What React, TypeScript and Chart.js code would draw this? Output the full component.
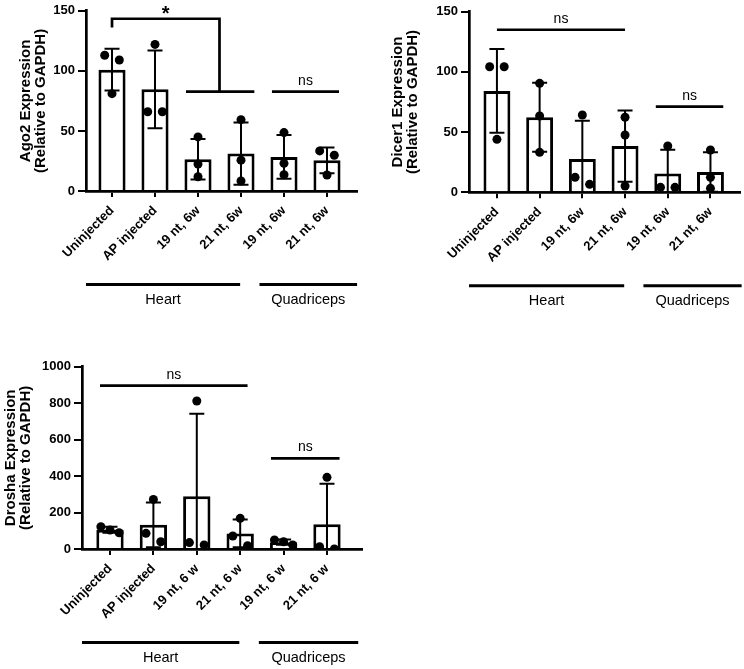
import React, { useEffect, useRef } from "react";
import { Chart, registerables } from "chart.js";

Chart.register(...registerables);

// ---------- data ----------
const categoriesShort = ["Uninjected", "AP injected", "19 nt, 6w", "21 nt, 6w", "19 nt, 6w", "21 nt, 6w"];
const categoriesSpaced = ["Uninjected", "AP injected", "19 nt, 6 w", "21 nt, 6 w", "19 nt, 6 w", "21 nt, 6 w"];
const tissues = ["Heart", "Quadriceps"];

const ago2Replicates = [
  [113, 109, 81],
  [122, 66, 66],
  [45, 22.4, 11.9],
  [59.4, 25.7, 8.3],
  [48.6, 23, 13.5],
  [33.4, 29.8, 13.3],
];
const dicer1Replicates = [
  [104.3, 104.3, 44],
  [90.5, 63.4, 33.2],
  [64.2, 12.4, 6.6],
  [62.3, 47.6, 5.2],
  [38.5, 4.1, 4.1],
  [35.1, 12.4, 3.3],
];
const droshaReplicates = [
  [122, 104, 89],
  [272, 86, 40],
  [812, 35, 22],
  [168, 71, 18],
  [50, 40, 22],
  [393, 13, 0],
];

const ago2Ticks = [0, 50, 100, 150];
const dicer1Ticks = [0, 50, 100, 150];
const droshaTicks = [0, 200, 400, 600, 800, 1000];

type Sig =
  | { kind: "bracket"; from: number; to: number; y: number; leftEnd: number; rightEnd: number; label: string }
  | { kind: "line"; from: number; to: number; y: number; label: string };

const ago2Sig: Sig[] = [
  { kind: "bracket", from: 0, to: 2.5, y: 143.4, leftEnd: 136.2, rightEnd: 82.8, label: "*" },
  { kind: "line", from: 1.72, to: 3.31, y: 82.8, label: "" },
  { kind: "line", from: 3.72, to: 5.28, y: 82.8, label: "ns" },
];
const dicer1Sig: Sig[] = [
  { kind: "line", from: 0, to: 3, y: 135, label: "ns" },
  { kind: "line", from: 3.72, to: 5.3, y: 71.1, label: "ns" },
];
const droshaSig: Sig[] = [
  { kind: "line", from: -0.23, to: 3.17, y: 896, label: "ns" },
  { kind: "line", from: 3.71, to: 5.29, y: 497, label: "ns" },
];

// ---------- helpers ----------
const FAMILY = "'Liberation Sans', Arial, Helvetica, sans-serif";

function mean(a: number[]) {
  return a.reduce((s, v) => s + v, 0) / a.length;
}
function sd(a: number[]) {
  const m = mean(a);
  return Math.sqrt(a.reduce((s, v) => s + (v - m) * (v - m), 0) / (a.length - 1));
}

// GraphPad-like horizontal spreading of overlapping points
function spreadPoints(reps: number[][], range: number) {
  const thr = range * 0.057;
  const out: { x: number; y: number }[] = [];
  reps.forEach((vals, i) => {
    const sorted = [...vals].sort((a, b) => b - a);
    const clusters: number[][] = [];
    sorted.forEach((v) => {
      const last = clusters[clusters.length - 1];
      if (last && last[last.length - 1] - v <= thr) last.push(v);
      else clusters.push([v]);
    });
    clusters.forEach((c) => {
      let offs: number[] = [0];
      if (c.length === 2) offs = [-0.17, 0.17];
      if (c.length >= 3) offs = c.map((_, k) => -0.21 + (0.42 * k) / (c.length - 1));
      c.forEach((v, k) => out.push({ x: i + offs[k], y: v }));
    });
  });
  return out;
}

type PanelCfg = {
  title: string[];
  cats: string[];
  reps: number[][];
  yTicks: number[];
  sig: Sig[];
  box: { left: number; top: number; width: number; height: number };
  yW: number;
  xH: number;
  pad: { top: number; right: number };
  xMin: number;
  xMax: number;
  titlePad: number;
  quadEnd: number;
};

const panels: PanelCfg[] = [
  {
    title: ["Ago2 Expression", "(Relative to GAPDH)"],
    cats: categoriesShort,
    reps: ago2Replicates,
    yTicks: ago2Ticks,
    sig: ago2Sig,
    box: { left: 0, top: 0, width: 372, height: 320 },
    yW: 86,
    xH: 129,
    pad: { top: 10, right: 15 },
    xMin: -0.605,
    xMax: 5.698,
    titlePad: 18.5,
    quadEnd: 5.7,
  },
  {
    title: ["Dicer1 Expression", "(Relative to GAPDH)"],
    cats: categoriesShort,
    reps: dicer1Replicates,
    yTicks: dicer1Ticks,
    sig: dicer1Sig,
    box: { left: 372, top: 0, width: 372, height: 320 },
    yW: 97,
    xH: 127.7,
    pad: { top: 11.7, right: 4 },
    xMin: -0.654,
    xMax: 5.68,
    titlePad: 18.5,
    quadEnd: 5.73,
  },
  {
    title: ["Drosha Expression", "(Relative to GAPDH)"],
    cats: categoriesSpaced,
    reps: droshaReplicates,
    yTicks: droshaTicks,
    sig: droshaSig,
    box: { left: 0, top: 330, width: 400, height: 339 },
    yW: 82,
    xH: 120,
    pad: { top: 36.7, right: 38.3 },
    xMin: -0.645,
    xMax: 5.8,
    titlePad: 3,
    quadEnd: 5.72,
  },
];

function buildConfig(p: PanelCfg): any {
  const means = p.reps.map(mean);
  const sds = p.reps.map(sd);
  const yMax = p.yTicks[p.yTicks.length - 1];
  const yStep = p.yTicks[1] - p.yTicks[0];

  const extras = {
    id: "extras",
    afterDatasetDraw(chart: any, args: any) {
      if (args.index !== 1) return;
      const xs = chart.scales.x;
      const ys = chart.scales.y;
      const ctx = chart.ctx as CanvasRenderingContext2D;
      ctx.save();
      ctx.strokeStyle = "#000";
      ctx.lineWidth = 2;
      means.forEach((m, i) => {
        const px = xs.getPixelForValue(i);
        const hi = m + sds[i];
        const lo = m - sds[i];
        const pTop = ys.getPixelForValue(hi);
        const pBot = ys.getPixelForValue(Math.max(lo, 0));
        ctx.beginPath();
        ctx.moveTo(px, pTop);
        ctx.lineTo(px, pBot);
        ctx.moveTo(px - 7.5, pTop);
        ctx.lineTo(px + 7.5, pTop);
        if (lo > 0) {
          ctx.moveTo(px - 7.5, pBot);
          ctx.lineTo(px + 7.5, pBot);
        }
        ctx.stroke();
      });
      ctx.restore();
    },
    afterDraw(chart: any) {
      const xs = chart.scales.x;
      const ys = chart.scales.y;
      const ctx = chart.ctx as CanvasRenderingContext2D;
      ctx.save();
      ctx.strokeStyle = "#000";
      ctx.fillStyle = "#000";
      ctx.lineWidth = 2.7;
      ctx.lineCap = "butt";
      ctx.textAlign = "center";
      ctx.textBaseline = "alphabetic";
      p.sig.forEach((s) => {
        const x1 = xs.getPixelForValue(s.from);
        const x2 = xs.getPixelForValue(s.to);
        const py = ys.getPixelForValue(s.y);
        ctx.beginPath();
        if (s.kind === "bracket") {
          ctx.moveTo(x1, ys.getPixelForValue(s.leftEnd));
          ctx.lineTo(x1, py);
          ctx.lineTo(x2, py);
          ctx.lineTo(x2, ys.getPixelForValue(s.rightEnd));
          ctx.stroke();
          ctx.font = `bold 20px ${FAMILY}`;
          ctx.fillText(s.label, (x1 + x2) / 2, py + 1);
        } else {
          ctx.moveTo(x1, py);
          ctx.lineTo(x2, py);
          ctx.stroke();
          if (s.label) {
            ctx.font = `14px ${FAMILY}`;
            ctx.fillText(s.label, (x1 + x2) / 2, py - 7);
          }
        }
      });
      // tissue group lines
      const base = chart.chartArea.bottom;
      const spans = [
        [xs.min, 2.98],
        [3.43, p.quadEnd],
      ];
      ctx.lineWidth = 3;
      ctx.font = `14.5px ${FAMILY}`;
      ctx.textBaseline = "middle";
      spans.forEach((sp, k) => {
        const a = xs.getPixelForValue(sp[0]);
        const b = xs.getPixelForValue(sp[1]);
        ctx.beginPath();
        ctx.moveTo(a, base + 93.5);
        ctx.lineTo(b, base + 93.5);
        ctx.stroke();
        ctx.fillText(tissues[k], (a + b) / 2, base + 108.5);
      });
      ctx.restore();
    },
  };

  return {
    type: "bar",
    data: {
      datasets: [
        {
          type: "scatter",
          data: spreadPoints(p.reps, yMax),
          pointRadius: 4.5,
          pointHoverRadius: 4.5,
          backgroundColor: "#000",
          borderColor: "#000",
          borderWidth: 0,
        },
        {
          type: "bar",
          data: means.map((m, i) => ({ x: i, y: m })),
          backgroundColor: "#fff",
          borderColor: "#000",
          borderWidth: 3,
          barPercentage: 0.63,
          categoryPercentage: 1,
        },
      ],
    },
    options: {
      responsive: false,
      animation: false,
      devicePixelRatio: 1,
      layout: { padding: { left: 0, top: p.pad.top, right: p.pad.right, bottom: 0 } },
      plugins: { legend: { display: false }, tooltip: { enabled: false } },
      scales: {
        x: {
          type: "linear",
          min: p.xMin,
          max: p.xMax,
          offset: false,
          afterBuildTicks: (scale: any) => {
            scale.ticks = p.cats.map((_, i) => ({ value: i }));
          },
          afterFit: (scale: any) => {
            scale.height = p.xH;
          },
          grid: {
            display: true,
            offset: false,
            drawOnChartArea: false,
            drawTicks: true,
            tickLength: 6,
            color: "#000",
            lineWidth: 2,
          },
          border: { display: true, color: "#000", width: 2.7 },
          ticks: {
            autoSkip: false,
            minRotation: 45,
            maxRotation: 45,
            padding: 6,
            color: "#000",
            font: { family: FAMILY, size: 13, weight: "bold" },
            callback: (_v: any, idx: number) => p.cats[idx],
          },
        },
        y: {
          type: "linear",
          min: 0,
          max: yMax,
          afterFit: (scale: any) => {
            scale.width = p.yW;
          },
          grid: {
            display: true,
            drawOnChartArea: false,
            drawTicks: true,
            tickLength: 8,
            color: "#000",
            lineWidth: 2,
          },
          border: { display: true, color: "#000", width: 2.7 },
          ticks: {
            stepSize: yStep,
            padding: 3,
            color: "#000",
            font: { family: FAMILY, size: 13, weight: "bold" },
            callback: (v: any) => String(v),
          },
          title: {
            display: true,
            text: p.title,
            color: "#000",
            padding: { top: p.titlePad, bottom: 0 },
            font: { family: FAMILY, size: 15, weight: "bold", lineHeight: 1 },
          },
        },
      },
    },
    plugins: [extras],
  };
}

function Panel({ cfg }: { cfg: PanelCfg }) {
  const ref = useRef<HTMLCanvasElement>(null);
  useEffect(() => {
    const chart = new Chart(ref.current as HTMLCanvasElement, buildConfig(cfg));
    return () => chart.destroy();
  }, [cfg]);
  const { left, top, width, height } = cfg.box;
  return (
    <div style={{ position: "absolute", left, top, width, height }}>
      <canvas ref={ref} width={width} height={height} style={{ display: "block", width, height }} />
    </div>
  );
}

export default function App() {
  return (
    <div style={{ position: "fixed", left: 0, top: 0, width: 744, height: 669, background: "#fff" }}>
      {panels.map((p, i) => (
        <Panel key={i} cfg={p} />
      ))}
    </div>
  );
}
